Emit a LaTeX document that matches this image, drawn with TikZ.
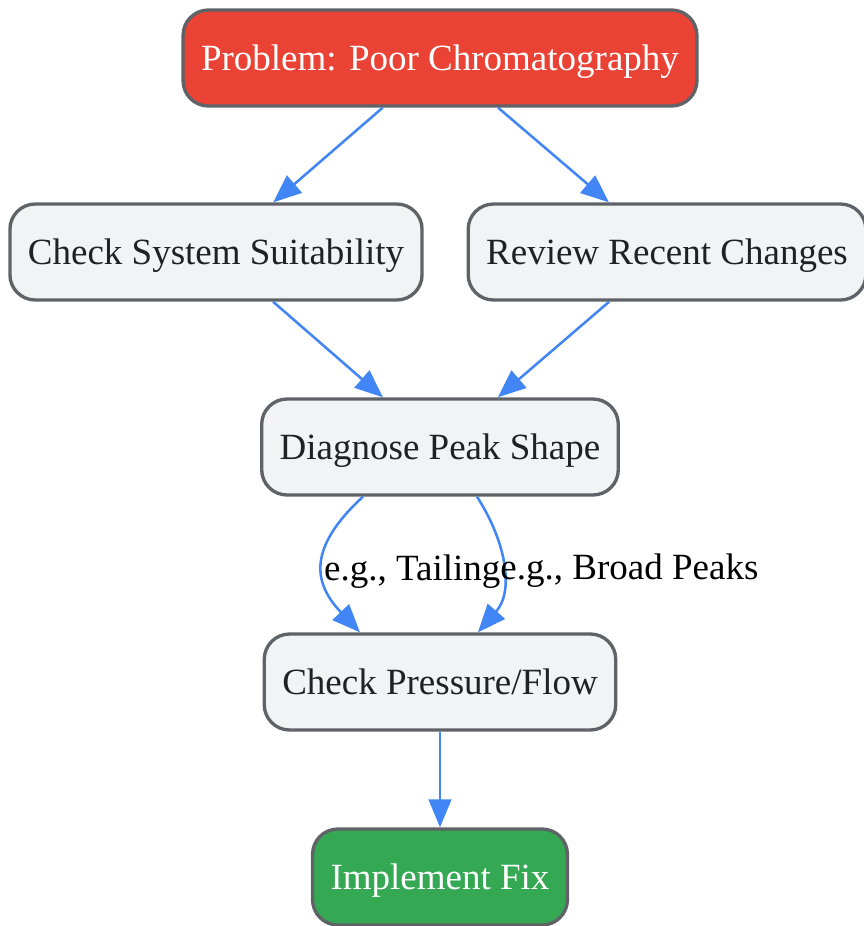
\documentclass[tikz,border=0pt]{standalone}
\usepackage{fontspec}
\setmainfont{Liberation Serif}
\usepackage{xcolor}
\usetikzlibrary{shapes,arrows,positioning,calc,arrows.meta}
\definecolor{probred}{HTML}{EA4335}
\definecolor{fixgreen}{HTML}{34A853}
\definecolor{boxfill}{HTML}{F1F3F4}
\definecolor{boxline}{HTML}{5F6368}
\definecolor{flowblue}{HTML}{4285F4}
\definecolor{txtgrey}{HTML}{202124}

\begin{document}
\begin{tikzpicture}[
    x=0.75pt, y=-0.75pt,
    stepnode/.style={rectangle, rounded corners=19pt, draw=boxline, line width=2.5pt, fill=boxfill,
        text=txtgrey, minimum height=72pt, inner xsep=13.5pt, text depth=0pt,
        font=\fontsize{27.75}{33}\selectfont},
    arrow/.style={draw=flowblue, line width=1.9pt, -{Triangle[length=21pt,width=17pt]}},
    edgelabel/.style={inner sep=0pt, yshift=-4pt, text=black, font=\fontsize{27.75}{33}\selectfont}
]
    \useasboundingbox (0,0) rectangle (864,926);

    \node[stepnode, fill=probred, text=white] (problem) at (440, 58) {Problem: Poor Chromatography};
    \node[stepnode] (suit) at (216, 252) {Check System Suitability};
    \node[stepnode] (review) at (667, 252) {Review Recent Changes};
    \node[stepnode] (diag) at (440, 447) {Diagnose Peak Shape};
    \node[stepnode] (press) at (440, 682) {Check Pressure/Flow};
    \node[stepnode, fill=fixgreen, text=white] (fix) at (440, 877) {Implement Fix};

    \draw[arrow] (problem) -- (suit); \draw[arrow] (problem) -- (review);
    \draw[arrow] (suit) -- (diag); \draw[arrow] (review) -- (diag);

    \draw[arrow] ($(diag.south)+(-77,0)$) .. controls (305,550) and (315,585) ..
        node[edgelabel, right, pos=0.5] {e.g., Tailing} ($(press.north)+(-80,0)$);
    \draw[arrow] ($(diag.south)+(37,0)$) .. controls (505,540) and (515,590) ..
        node[edgelabel, right, pos=0.5, xshift=-2pt] {e.g., Broad Peaks} ($(press.north)+(38,0)$);

    \draw[arrow] (press) -- (fix);
\end{tikzpicture}
\end{document}
